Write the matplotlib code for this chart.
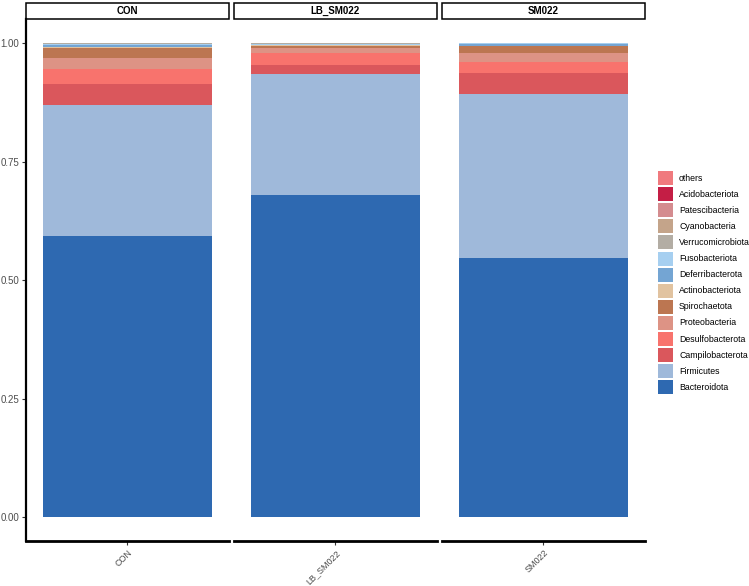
import numpy as np
import matplotlib
matplotlib.use('Agg')
import matplotlib.pyplot as plt
from matplotlib.patches import Rectangle

plt.rcParams['font.family'] = ['Liberation Sans', 'DejaVu Sans']

groups = ['CON', 'LB_SM022', 'SM022']
# stacking order, bottom to top
taxa = ['Bacteroidota', 'Firmicutes', 'Campilobacterota', 'Desulfobacterota',
        'Proteobacteria', 'Spirochaetota', 'Actinobacteriota', 'Deferribacterota',
        'Fusobacteriota', 'Verrucomicrobiota', 'Cyanobacteria', 'Patescibacteria',
        'Acidobacteriota', 'others']
colors = ['#2E69B1', '#9FB9DA', '#DA575C', '#F8736D', '#DD9385', '#BC7651',
          '#E1C3A0', '#74A5D3', '#A6CFF0', '#B3ADA4', '#C4A48A', '#D48C8F',
          '#C41E45', '#F07A7E']

con = [0.593, 0.276, 0.044, 0.032, 0.023, 0.022, 0.002, 0.004, 0.002,
       0.001, 0.0004, 0.0003, 0.0001, 0.0002]
lb_sm022 = [0.679, 0.256, 0.019, 0.024, 0.012, 0.004, 0.001, 0.0015, 0.0005,
            0.002, 0.0005, 0.0003, 0.0001, 0.0001]
sm022 = [0.546, 0.346, 0.045, 0.022, 0.020, 0.014, 0.001, 0.004, 0.001,
         0.0005, 0.0003, 0.0001, 0.0001, 0.0001]
values = [con, lb_sm022, sm022]

W, H = 749, 586
fig = plt.figure(figsize=(W / 100, H / 100), dpi=100)

panel_left = [25.5, 233.5, 441.5]
panel_w = 203.5
top_px, bot_px = 19.3, 541
strip_h = 16
half = 0.45 / 0.83

for i, g in enumerate(groups):
    ax = fig.add_axes([panel_left[i] / W, 1 - bot_px / H, panel_w / W, (bot_px - top_px) / H])
    bottom = 0
    for t, c, v in zip(taxa, colors, values[i]):
        ax.bar([0], [v], bottom=bottom, width=0.9, color=c, linewidth=0)
        bottom += v
    ax.set_xlim(-half, half)
    ax.set_ylim(-0.05, 1.05)
    ax.set_xticks([0])
    ax.set_xticklabels([g], rotation=45, ha='right', va='top', rotation_mode='anchor',
                       fontsize=6.5, color='#4D4D4D')
    ax.tick_params(axis='x', length=3, color='#333333', pad=2)
    for s in ['top', 'right']:
        ax.spines[s].set_visible(False)
    ax.spines['bottom'].set_linewidth(2)
    if i == 0:
        ax.spines['left'].set_linewidth(1.6)
        ax.set_yticks([0, 0.25, 0.5, 0.75, 1.0])
        ax.set_yticklabels(['0.00', '0.25', '0.50', '0.75', '1.00'], fontsize=7, color='#4D4D4D')
        ax.tick_params(axis='y', length=3, color='#333333', pad=1.5)
    else:
        ax.spines['left'].set_visible(False)
        ax.set_yticks([])
    # facet strip
    frac = strip_h / (bot_px - top_px)
    strip = Rectangle((0, 1.0), 1, frac, transform=ax.transAxes,
                      facecolor='white', edgecolor='black', linewidth=1.1, clip_on=False)
    ax.add_patch(strip)
    ax.text(0.5, 1.0 + frac / 2, g, transform=ax.transAxes, ha='center',
            va='center', fontsize=7, fontweight='bold')

# legend drawn by hand, top entry = last taxon
leg_x, leg_top, pitch, sw, sh = 658, 171, 16.1, 15, 14
for k, (t, c) in enumerate(zip(taxa[::-1], colors[::-1])):
    y0 = leg_top + k * pitch
    fig.add_artist(Rectangle((leg_x / W, 1 - (y0 + sh) / H), sw / W, sh / H,
                             transform=fig.transFigure, facecolor=c, edgecolor='none'))
    fig.text((leg_x + sw + 6) / W, 1 - (y0 + sh / 2) / H, t, ha='left', va='center',
             fontsize=6.3, color='black')

fig.savefig('out.png', dpi=100)
